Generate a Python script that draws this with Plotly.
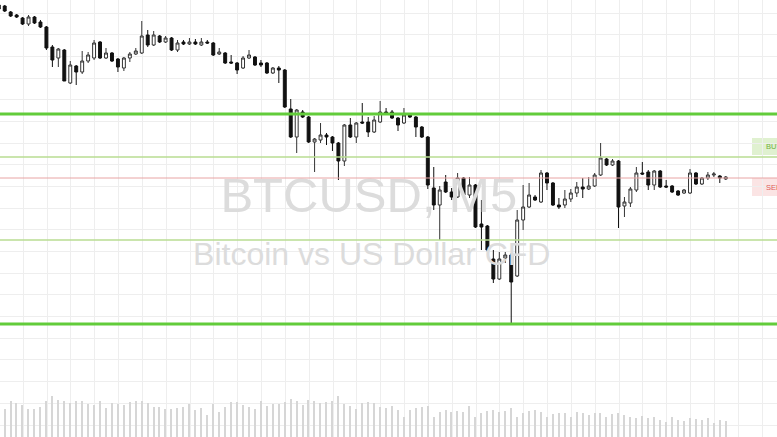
import plotly.graph_objects as go

# ---- data (price units) ----
candle_index = list(range(-1, 122))
opens = [432,431,425,422,419,413,420,415,410,390,379,387,354,371,365,376,379,395,379,384,378,369,379,383,384,402,392,401,395,399,387,395,393,395,392,395,394,383,384,375,374,369,379,380,374,374,364,369,367,328,300,325,320,295,297,302,300,294,276,312,300,315,315,305,315,325,325,319,314,322,320,310,300,249,232,255,245,240,259,242,252,213,211,178,158,179,182,161,217,230,240,235,264,254,232,232,238,244,250,248,251,262,278,272,276,231,234,247,264,265,252,266,251,251,246,244,244,264,253,259,262,261,258]
highs = [433,432,426,423,420,422,421,417,411,392,389,388,376,372,386,385,397,396,389,385,379,380,385,389,416,407,406,402,401,400,397,397,399,398,399,397,395,389,385,382,375,381,387,381,377,375,370,371,368,338,328,327,321,299,314,304,301,295,313,319,315,334,320,321,336,329,327,320,329,323,321,311,301,270,251,262,249,264,260,260,253,237,212,187,185,185,184,227,252,254,242,267,265,255,239,247,248,255,259,260,264,294,279,278,277,240,250,270,275,267,267,267,257,252,247,248,268,265,260,265,265,262,261]
lows = [427,425,420,419,412,411,413,409,387,370,370,356,353,352,363,374,377,378,378,375,365,366,375,382,383,390,391,394,394,386,385,392,392,392,391,393,381,382,373,373,363,368,378,371,370,363,363,354,329,299,284,319,294,265,294,292,286,257,271,299,294,313,300,304,314,323,318,306,313,319,300,299,248,227,197,244,237,239,239,239,209,187,185,154,157,174,114,160,207,229,236,234,247,231,228,229,235,240,239,247,250,261,271,271,209,220,230,245,262,247,247,249,249,244,241,243,243,252,252,257,260,254,257]
closes = [428,426,421,420,413,420,414,410,389,377,388,356,372,365,376,382,394,379,384,376,370,379,383,386,401,392,402,395,399,387,394,393,395,393,395,394,382,385,374,374,367,379,382,372,372,364,369,367,330,300,327,320,295,298,302,300,294,276,312,300,314,314,305,317,325,324,319,312,322,320,310,300,252,232,247,245,240,259,242,252,210,210,187,158,178,182,155,217,230,242,237,264,254,232,230,238,244,250,248,251,262,279,272,276,230,235,248,264,263,252,266,250,250,245,242,247,264,253,259,262,263,259,260]
volumes = [30,
           28,36,34,32,28,28,30,36,41,37,36,34,36,36,33,32,36,29,34,33,
           32,35,36,36,34,30,30,28,28,29,30,33,27,29,22,33,25,30,35,35,
           32,30,28,36,31,33,33,35,38,36,32,37,36,34,35,36,41,33,31,28,
           34,35,34,30,29,31,27,
           20,27,29,30,31,20,25,27,25,26,25,31,20,24,26,27,25,26,29,20,
           24,26,27,25,20,23,24,24,20,25,24,22,24,24,20,23,24,22,20,19,
           21,19,20,17,15,20,17,16,19,18,17,19,14,17,16]

major_levels = [323, 113]      # thick green
minor_levels = [280, 197]      # thin green
sell_level = [259]             # red
title_text = "BTCUSD, M5"
subtitle_text = "Bitcoin vs US Dollar CFD"

fig = go.Figure()

# watermark (behind candles)
fig.add_trace(go.Scatter(
    x=[61.1, 61.6], y=[237, 180], mode="text",
    text=[title_text, subtitle_text],
    textfont=dict(family="Liberation Sans, Arial, sans-serif", size=[49, 32], color="#dcdcdc"),
    hoverinfo="skip", showlegend=False))

fig.add_trace(go.Bar(
    x=candle_index, y=volumes, width=0.22, marker=dict(color="#d6d6d6", line=dict(width=0)),
    showlegend=False, hoverinfo="skip"))

fig.add_trace(go.Candlestick(
    x=candle_index, open=opens, high=highs, low=lows, close=closes,
    increasing=dict(line=dict(color="#333333", width=1), fillcolor="#ffffff"),
    decreasing=dict(line=dict(color="#111111", width=1), fillcolor="#111111"),
    whiskerwidth=0, showlegend=False))

for lv in major_levels:
    fig.add_hline(y=lv, line=dict(color="#62cc3a", width=3), layer="above")
for lv in minor_levels:
    fig.add_hline(y=lv, line=dict(color="#b9dd92", width=1.5), layer="above")
for lv in sell_level:
    fig.add_hline(y=lv, line=dict(color="#e8a4a4", width=1), layer="above")

# right-side labels
fig.add_shape(type="rect", xref="paper", x0=752/777, x1=1.0, yref="y", y0=282, y1=299,
              fillcolor="#e0f1d0", line=dict(width=0), layer="below")
fig.add_shape(type="rect", xref="paper", x0=752/777, x1=1.0, yref="y", y0=241, y1=259,
              fillcolor="#fbe4e4", line=dict(width=0), layer="below")
fig.add_annotation(xref="paper", x=764/777, y=290.5, text="BUY", showarrow=False, xanchor="left",
                   font=dict(family="Liberation Sans, Arial", size=7.5, color="#72b040"))
fig.add_annotation(xref="paper", x=764/777, y=250, text="SELL", showarrow=False, xanchor="left",
                   font=dict(family="Liberation Sans, Arial", size=7.5, color="#e05a5a"))

fig.update_layout(
    width=777, height=437, margin=dict(l=0, r=0, t=0, b=0),
    paper_bgcolor="white", plot_bgcolor="white", showlegend=False, bargap=0,
    xaxis=dict(range=[-0.79, 129.6], rangeslider=dict(visible=False), showticklabels=False,
               showgrid=True, gridcolor="#eeeeee", gridwidth=1, tick0=3.1, dtick=4,
               zeroline=False, showline=False, ticks=""),
    yaxis=dict(range=[0, 437], showticklabels=False, showgrid=True, gridcolor="#eeeeee",
               gridwidth=1, tick0=12, dtick=21.67, zeroline=False, showline=False, ticks=""),
)

fig.write_html("out.html", config={"displayModeBar": False},
               post_script="document.body.style.margin='0';")
